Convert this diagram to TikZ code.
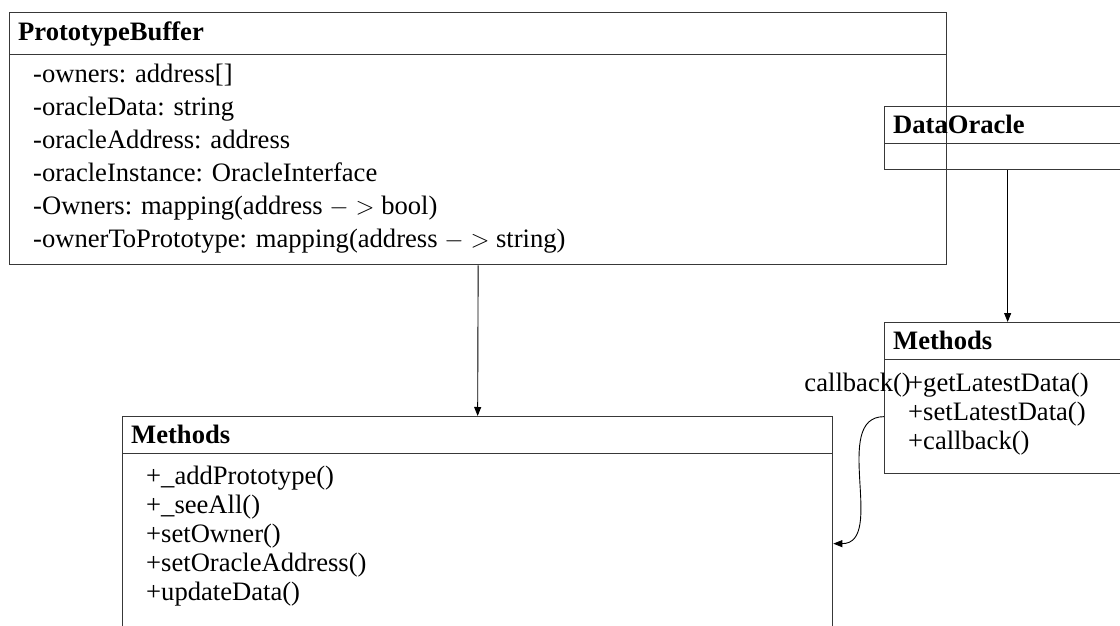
\documentclass[tikz,border=0pt]{standalone}
\usepackage{fontspec}
\setmainfont{Liberation Serif}
\usetikzlibrary{arrows.meta}
\begin{document}
\begin{tikzpicture}[x=1pt,y=-1pt,
  box/.style={draw=black!78, line width=1.3pt, inner sep=0pt, anchor=north west},
  ttl/.style={inner sep=0pt, anchor=base west, font=\fontsize{26.6}{29}\selectfont\bfseries},
  itm/.style={inner sep=0pt, anchor=base west, font=\fontsize{26.6}{29}\selectfont},
  arr/.style={draw=black, line width=0.9pt, -{Triangle[length=9pt,width=7pt]}}]
\useasboundingbox (0,0) rectangle (1120,626);
\clip (0,0) rectangle (1120,626);
% PrototypeBuffer
\node[box, minimum width=937pt, minimum height=42pt] (pbH) at (9,12) {};
\node[box, minimum width=937pt, minimum height=210pt] (pbB) at (9,54) {};
\node[ttl] (pbT) at (18,41) {PrototypeBuffer};
\foreach \t [count=\i] in {{-owners: address[]},{-oracleData: string},{-oracleAddress: address},{-oracleInstance: OracleInterface},{-Owners: mapping(address $->$ bool)},{-ownerToPrototype: mapping(address $->$ string)}}
  \node[itm] (pb\i) at (33,{82+33*(\i-1)}) {\t};
% Methods (PrototypeBuffer)
\node[box, minimum width=710pt, minimum height=37pt] (mbH) at (122,416) {};
\node[box, minimum width=710pt, minimum height=180pt] (mbB) at (122,453) {};
\node[ttl] (mbT) at (131,443) {Methods};
\foreach \t [count=\i] in {{+\_addPrototype()},{+\_seeAll()},{+setOwner()},{+setOracleAddress()},{+updateData()}}
  \node[itm] (mb\i) at (146,{484+29*(\i-1)}) {\t};
% DataOracle
\node[box, minimum width=246pt, minimum height=37pt] (doH) at (884,106) {};
\node[box, minimum width=246pt, minimum height=26pt] (doB) at (884,143) {};
\node[ttl] (doT) at (893,133) {DataOracle};
% Methods (DataOracle)
\node[box, minimum width=246pt, minimum height=37pt] (dmH) at (884,322) {};
\node[box, minimum width=246pt, minimum height=114pt] (dmB) at (884,359) {};
\node[ttl] (dmT) at (893,349) {Methods};
\foreach \t [count=\i] in {{+getLatestData()},{+setLatestData()},{+callback()}}
  \node[itm] (dm\i) at (908,{391+29*(\i-1)}) {\t};
% connectors
\draw[arr] (pbB.south) -- (mbH.north);
\draw[arr] (doB.south) -- (dmH.north);
\draw[arr] (dmB.west) to[out=180,in=0] (mbB.east);
\node[itm, anchor=base east] (cbl) at (911,391) {callback()};
\end{tikzpicture}
\end{document}
